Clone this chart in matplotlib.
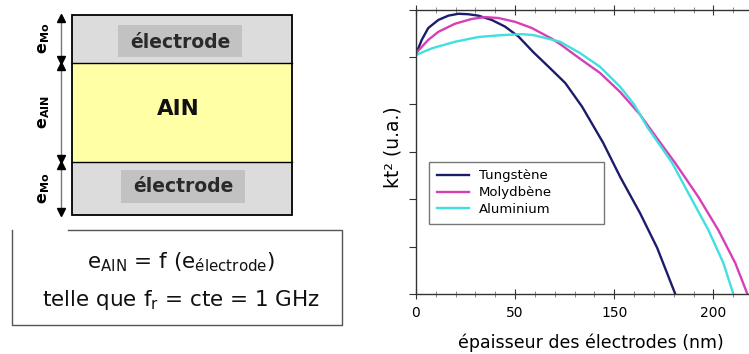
import matplotlib
matplotlib.use("Agg")
import matplotlib.pyplot as plt
from matplotlib.patches import Rectangle
from matplotlib.ticker import MultipleLocator

plt.rcParams['font.family'] = ['DejaVu Sans']
plt.rcParams['mathtext.default'] = 'regular'

# curves (x in axis units, ticks every 50 labelled as below)
x_tungstene = [0, 2.9, 6.2, 11.3, 16.3, 21.4, 26.4, 31.5, 38.2, 44.9, 51.7, 59.2, 66.7, 75.3, 83.8, 94.4, 103.0, 113.1, 121.7, 130.8]
y_tungstene = [5.06, 5.36, 5.61, 5.78, 5.87, 5.91, 5.90, 5.87, 5.78, 5.64, 5.43, 5.10, 4.80, 4.45, 3.95, 3.19, 2.47, 1.70, 0.97, 0.0]

x_molybdene = [0, 6.2, 11.3, 19.7, 28.1, 34.8, 41.6, 50.0, 58.4, 68.7, 72.7, 82.8, 92.9, 103.0, 113.1, 118.2, 130.8, 142.4, 152.5, 161.1, 167.2]
y_molybdene = [5.08, 5.36, 5.53, 5.70, 5.80, 5.84, 5.82, 5.74, 5.61, 5.38, 5.27, 4.96, 4.66, 4.26, 3.78, 3.48, 2.76, 2.05, 1.35, 0.65, 0.0]

x_aluminium = [0, 7.9, 19.7, 31.5, 43.3, 53.4, 59.2, 65.2, 72.7, 82.8, 92.9, 103.0, 110.0, 117.0, 123.2, 129.3, 138.4, 147.5, 155.1, 160.1]
y_aluminium = [5.04, 5.18, 5.32, 5.42, 5.46, 5.48, 5.46, 5.40, 5.32, 5.08, 4.79, 4.37, 4.00, 3.50, 3.13, 2.76, 2.05, 1.35, 0.65, 0.0]

labels = ['Tungstène', 'Molydbène', 'Aluminium']
colors = ['#1c1c6c', '#d83fb4', '#40e0e0']

xtick_pos = [0, 50, 100, 150]
xtick_labels = ['0', '50', '150', '200']

fig = plt.figure(figsize=(7.49, 3.54), dpi=100)

# ---- left: stack diagram, drawn in pixel coordinates ----
ax0 = fig.add_axes([0, 0, 1, 1])
ax0.set_xlim(0, 749)
ax0.set_ylim(354, 0)
ax0.axis('off')

ax0.add_patch(Rectangle((72, 15), 220, 48, facecolor='#dcdcdc', edgecolor='none'))
ax0.add_patch(Rectangle((72, 63), 220, 99, facecolor='#ffffa6', edgecolor='none'))
ax0.add_patch(Rectangle((72, 162), 220, 53, facecolor='#dcdcdc', edgecolor='none'))
ax0.add_patch(Rectangle((72, 15), 220, 200, facecolor='none', edgecolor='black', lw=1.3))
ax0.plot([72, 292], [63, 63], color='black', lw=1)
ax0.plot([72, 292], [162, 162], color='black', lw=1)

ax0.add_patch(Rectangle((118, 25), 124, 32, facecolor='#c2c2c2', edgecolor='none'))
ax0.add_patch(Rectangle((121, 170), 124, 33, facecolor='#c2c2c2', edgecolor='none'))
ax0.text(180, 42, 'électrode', ha='center', va='center', fontsize=13.5, fontweight='bold', color='#2a2a2a')
ax0.text(183, 187, 'électrode', ha='center', va='center', fontsize=13.5, fontweight='bold', color='#2a2a2a')
ax0.text(178, 109, 'AIN', ha='center', va='center', fontsize=15.5, fontweight='bold', color='#111111')

# thickness arrows
ax0.plot([61, 61], [17, 213], color='#777777', lw=1)
ax0.plot([61], [18], marker='^', color='black', ms=5.5, ls='none')
ax0.plot([61], [212], marker='v', color='black', ms=5.5, ls='none')
for yb in [63, 162]:
    ax0.plot([61], [yb - 3], marker='v', color='black', ms=5.5, ls='none')
    ax0.plot([61], [yb + 3], marker='^', color='black', ms=5.5, ls='none')
ax0.text(44, 38, r'$\mathbf{e_{Mo}}$', rotation=90, ha='center', va='center', fontsize=11.5)
ax0.text(44, 112, r'$\mathbf{e_{AIN}}$', rotation=90, ha='center', va='center', fontsize=11.5)
ax0.text(44, 188, r'$\mathbf{e_{Mo}}$', rotation=90, ha='center', va='center', fontsize=11.5)

# formula box
ax0.plot([68, 342, 342, 12, 12], [230, 230, 325, 325, 230], color='#555555', lw=1)
ax0.text(181, 262, 'e$_{AIN}$ = f (e$_{électrode}$)', ha='center', va='center', fontsize=15.5, color='#111111')
ax0.text(181, 300, 'telle que f$_{r}$ = cte = 1 GHz', ha='center', va='center', fontsize=15.5, color='#111111')

# ---- right: kt2 versus electrode thickness ----
ax = fig.add_axes([416 / 749, 1 - 294 / 354, 333 / 749, 284.5 / 354])
ax.plot(x_tungstene, y_tungstene, color=colors[0], lw=1.7, label=labels[0])
ax.plot(x_molybdene, y_molybdene, color=colors[1], lw=1.7, label=labels[1])
ax.plot(x_aluminium, y_aluminium, color=colors[2], lw=1.7, label=labels[2])

ax.set_xlim(0, 168)
ax.set_ylim(0, 6)
ax.set_xticks(xtick_pos)
ax.set_xticklabels(xtick_labels, fontsize=10)
ax.xaxis.set_minor_locator(MultipleLocator(10))
ax.set_yticks(range(7))
ax.set_yticklabels([])

for side in ['left', 'top', 'bottom']:
    ax.spines[side].set_color('#333333')
    ax.spines[side].set_linewidth(1)
ax.spines['right'].set_visible(False)

ax.tick_params(axis='x', which='major', direction='inout', length=7, top=True, color='#333333', pad=5)
ax.tick_params(axis='x', which='minor', direction='inout', length=4, top=True, color='#777777')
ax.tick_params(axis='y', direction='out', length=5, color='#333333')

ax.set_ylabel('kt² (u.a.)', fontsize=13.5)
ax.yaxis.set_label_coords(-0.042, 0.515)
ax.set_xlabel('épaisseur des électrodes (nm)', fontsize=12.5)
ax.xaxis.set_label_coords(0.524, -0.14)

leg = ax.legend(loc='lower left', bbox_to_anchor=(0.039, 0.246, 0.527, 0.218), mode='expand',
                fontsize=9.5, frameon=True, fancybox=False, borderpad=0.6, labelspacing=0.29,
                handlelength=2.4, handletextpad=0.8, borderaxespad=0)
leg.get_frame().set_edgecolor('#555555')
leg.get_frame().set_linewidth(1)

fig.savefig('out.png', dpi=100)
